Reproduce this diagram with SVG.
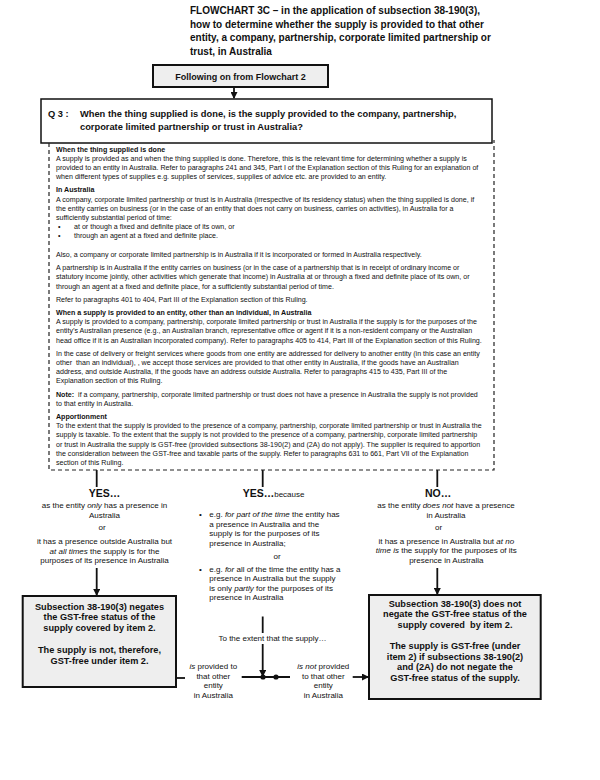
<svg xmlns="http://www.w3.org/2000/svg" width="600" height="780" viewBox="0 0 600 780">
<style>
text{font-family:"Liberation Sans",Arial,sans-serif;fill:#111}
.b{font-weight:bold}
.i{font-style:italic}
.ti{font-size:10px;font-weight:bold}
.q{font-size:9.3px;font-weight:bold}
.s{font-size:7.1px}
.m{font-size:8px}
.h{font-size:10.5px;font-weight:bold}
.bt{font-size:9.2px;font-weight:bold}
.c{text-anchor:middle}
.gb{fill:#eeeeee;stroke:#111;stroke-width:2}
.wb{fill:#ffffff;stroke:#111;stroke-width:1.5}
.ln{stroke:#111;stroke-width:1.8;fill:none}
.ds{stroke:#222;stroke-width:1.2;fill:none;stroke-dasharray:4 3}
</style>
<defs>
<marker id="ah" markerWidth="7" markerHeight="7" refX="6" refY="3.5" orient="auto" markerUnits="userSpaceOnUse">
<path d="M0,0 L7,3.5 L0,7 Z" fill="#111"/>
</marker>
</defs>
<rect width="600" height="780" fill="#ffffff"/>

<g id="title">
<text class="ti" x="190" y="14">FLOWCHART 3C – in the application of subsection 38-190(3),</text>
<text class="ti" x="190" y="27.5">how to determine whether the supply is provided to that other</text>
<text class="ti" x="190" y="41">entity, a company, partnership, corporate limited partnership or</text>
<text class="ti" x="190" y="54.5">trust, in Australia</text>
</g>

<g id="connectors">
<line class="ln" x1="234" y1="87" x2="234" y2="98" marker-end="url(#ah)"/>
<line class="ln" x1="96.7" y1="470" x2="96.7" y2="487"/>
<line class="ln" x1="262.7" y1="470" x2="262.7" y2="487"/>
<line class="ln" x1="437.3" y1="470" x2="437.3" y2="487"/>
<line class="ln" x1="96.7" y1="568" x2="96.7" y2="595" marker-end="url(#ah)"/>
<line class="ln" x1="437.3" y1="568" x2="437.3" y2="594" marker-end="url(#ah)"/>
<line class="ln" x1="262.7" y1="616.5" x2="262.7" y2="633"/>
<line class="ln" x1="262.7" y1="644" x2="262.7" y2="676" marker-end="url(#ah)"/>
<line class="ln" x1="241.7" y1="677" x2="290" y2="677"/>
<circle cx="263" cy="677" r="2.6" fill="#111"/>
<circle cx="276" cy="677" r="2.6" fill="#111"/>
<line class="ln" x1="176" y1="678" x2="185" y2="678"/>
<line class="ln" x1="352.7" y1="677" x2="368" y2="677" marker-end="url(#ah)"/>
</g>

<g id="start">
<rect class="gb" x="153" y="65" width="175" height="22"/>
<text class="q c" x="240.5" y="79.5" style="font-size:9px">Following on from Flowchart 2</text>
</g>

<g id="q3">
<rect class="wb" x="41" y="99" width="451" height="44"/>
<text class="q" x="48" y="117">Q 3 :</text>
<text class="q" x="80" y="117">When the thing supplied is done, is the supply provided to the company, partnership,</text>
<text class="q" x="80" y="130">corporate limited partnership or trust in Australia?</text>
</g>

<g id="notes">
<path class="ds" d="M49,143 V470 H494 V140"/>
<text class="s b" x="56" y="151.5">When the thing supplied is done</text>
<text class="s" x="56" y="160.7">A supply is provided as and when the thing supplied is done. Therefore, this is the relevant time for determining whether a supply is</text>
<text class="s" x="56" y="169.9">provided to an entity in Australia. Refer to paragraphs 241 and 345, Part I of the Explanation section of this Ruling for an explanation of</text>
<text class="s" x="56" y="179.1">when different types of supplies e.g. supplies of services, supplies of advice etc. are provided to an entity.</text>
<text class="s b" x="56" y="192.3">In Australia</text>
<text class="s" x="56" y="201.5">A company, corporate limited partnership or trust is in Australia (irrespective of its residency status) when the thing supplied is done, if</text>
<text class="s" x="56" y="210.7">the entity carries on business (or in the case of an entity that does not carry on business, carries on activities), in Australia for a</text>
<text class="s" x="56" y="219.9">sufficiently substantial period of time:</text>
<text class="s" x="58" y="229.1">•</text>
<text class="s" x="74" y="229.1">at or though a fixed and definite place of its own, or</text>
<text class="s" x="58" y="238.3">•</text>
<text class="s" x="74" y="238.3">through an agent at a fixed and definite place.</text>
<text class="s" x="56" y="257">Also, a company or corporate limited partnership is in Australia if it is incorporated or formed in Australia respectively.</text>
<text class="s" x="56" y="270.2">A partnership is in Australia if the entity carries on business (or in the case of a partnership that is in receipt of ordinary income or</text>
<text class="s" x="56" y="279.4">statutory income jointly, other activities which generate that income) in Australia at or through a fixed and definite place of its own, or</text>
<text class="s" x="56" y="288.6">through an agent at a fixed and definite place, for a sufficiently substantial period of time.</text>
<text class="s" x="56" y="301.8">Refer to paragraphs 401 to 404, Part III of the Explanation section of this Ruling.</text>
<text class="s b" x="56" y="315">When a supply is provided to an entity, other than an individual, in Australia</text>
<text class="s" x="56" y="324.2">A supply is provided to a company, partnership, corporate limited partnership or trust in Australia if the supply is for the purposes of the</text>
<text class="s" x="56" y="333.4">entity’s Australian presence (e.g., an Australian branch, representative office or agent if it is a non-resident company or the Australian</text>
<text class="s" x="56" y="342.6">head office if it is an Australian incorporated company). Refer to paragraphs 405 to 414, Part III of the Explanation section of this Ruling.</text>
<text class="s" x="56" y="355.8">In the case of delivery or freight services where goods from one entity are addressed for delivery to another entity (in this case an entity</text>
<text class="s" x="56" y="365" xml:space="preserve">other  than an individual), , we accept those services are provided to that other entity in Australia, if the goods have an Australian</text>
<text class="s" x="56" y="374.2">address, and outside Australia, if the goods have an address outside Australia. Refer to paragraphs 415 to 435, Part III of the</text>
<text class="s" x="56" y="383.4">Explanation section of this Ruling.</text>
<text class="s" x="56" y="396.6" xml:space="preserve"><tspan class="b">Note:</tspan>  if a company, partnership, corporate limited partnership or trust does not have a presence in Australia the supply is not provided</text>
<text class="s" x="56" y="405.8">to that entity in Australia.</text>
<text class="s b" x="56" y="419">Apportionment</text>
<text class="s" x="56" y="428.2">To the extent that the supply is provided to the presence of a company, partnership, corporate limited partnership or trust in Australia the</text>
<text class="s" x="56" y="437.4">supply is taxable. To the extent that the supply is not provided to the presence of a company, partnership, corporate limited partnership</text>
<text class="s" x="56" y="446.6">or trust in Australia the supply is GST-free (provided subsections 38-190(2) and (2A) do not apply). The supplier is required to apportion</text>
<text class="s" x="56" y="455.8">the consideration between the GST-free and taxable parts of the supply. Refer to paragraphs 631 to 661, Part VII of the Explanation</text>
<text class="s" x="56" y="465">section of this Ruling.</text>
</g>

<g id="yes-only">
<text class="h c" x="104.5" y="497">YES…</text>
<text class="m c" x="104.5" y="508">as the entity <tspan class="i">only</tspan> has a presence in</text>
<text class="m c" x="104.5" y="518">Australia</text>
<text class="m c" x="102" y="530">or</text>
<text class="m c" x="104.5" y="544">it has a presence outside Australia but</text>
<text class="m c" x="104.5" y="553.5"><tspan class="i">at all times</tspan> the supply is for the</text>
<text class="m c" x="104.5" y="563">purposes of its presence in Australia</text>
</g>

<g id="yes-because">
<text x="242.7" y="497"><tspan class="h">YES…</tspan><tspan class="m">because</tspan></text>
<text class="m" x="199" y="517">•</text>
<text class="m" x="209.3" y="517">e.g. <tspan class="i">for part of the time</tspan> the entity has</text>
<text class="m" x="209.3" y="526.5">a presence in Australia and the</text>
<text class="m" x="209.3" y="536">supply is for the purposes of its</text>
<text class="m" x="209.3" y="545.5">presence in Australia;</text>
<text class="m c" x="277" y="558.5">or</text>
<text class="m" x="199" y="571.5">•</text>
<text class="m" x="209.3" y="571.5">e.g. <tspan class="i">for</tspan> all of the time the entity has a</text>
<text class="m" x="209.3" y="581">presence in Australia but the supply</text>
<text class="m" x="209.3" y="590.5">is only <tspan class="i">partly</tspan> for the purposes of its</text>
<text class="m" x="209.3" y="600">presence in Australia</text>
<text class="m c" x="272.5" y="641">To the extent that the supply…</text>
</g>

<g id="no">
<text class="h c" x="438" y="497">NO…</text>
<text class="m c" x="446" y="507.5">as the entity <tspan class="i">does not</tspan> have a presence</text>
<text class="m c" x="446" y="517.5">in Australia</text>
<text class="m c" x="438.5" y="530">or</text>
<text class="m c" x="446.3" y="543.5">it has a presence in Australia but <tspan class="i">at no</tspan></text>
<text class="m c" x="446.3" y="553"><tspan class="i">time is</tspan> the supply for the purposes of its</text>
<text class="m c" x="446.3" y="562.5">presence in Australia</text>
</g>

<g id="labels">
<text class="m c" x="213.3" y="669"><tspan class="i">is</tspan> provided to</text>
<text class="m c" x="213.3" y="678.5">that other</text>
<text class="m c" x="213.3" y="688">entity</text>
<text class="m c" x="213.3" y="697.5">in Australia</text>
<text class="m c" x="323.3" y="669"><tspan class="i">is not</tspan> provided</text>
<text class="m c" x="323.3" y="678.5">to that other</text>
<text class="m c" x="323.3" y="688">entity</text>
<text class="m c" x="323.3" y="697.5">in Australia</text>
</g>

<g id="result-negated">
<rect class="gb" x="22.7" y="596" width="153.3" height="91"/>
<text class="bt c" x="99.5" y="609.5">Subsection 38-190(3) negates</text>
<text class="bt c" x="99.5" y="620">the GST-free status of the</text>
<text class="bt c" x="99.5" y="630.5">supply covered by item 2.</text>
<text class="bt c" x="99.5" y="652.5">The supply is not, therefore,</text>
<text class="bt c" x="99.5" y="663.5">GST-free under item 2.</text>
</g>

<g id="result-not-negated">
<rect class="gb" x="369" y="595" width="171.7" height="104"/>
<text class="bt c" x="455" y="606.5">Subsection 38-190(3) does not</text>
<text class="bt c" x="455" y="617">negate the GST-free status of the</text>
<text class="bt c" x="455" y="627.5" xml:space="preserve">supply covered  by item 2.</text>
<text class="bt c" x="455" y="649">The supply is GST-free (under</text>
<text class="bt c" x="455" y="659.5">item 2) if subsections 38-190(2)</text>
<text class="bt c" x="455" y="670">and (2A) do not negate the</text>
<text class="bt c" x="455" y="680.5">GST-free status of the supply.</text>
</g>
</svg>
